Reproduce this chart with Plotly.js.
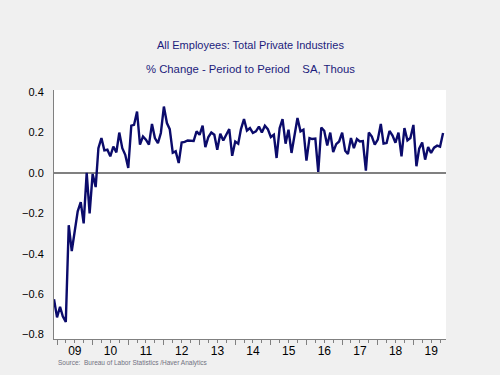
<!DOCTYPE html>
<html>
<head>
<meta charset="utf-8">
<script src="https://cdn.plot.ly/plotly-3.0.1.min.js"></script>
<style>
html,body{margin:0;padding:0;background:#f0f0f0;}
#chart{width:500px;height:375px;}
</style>
</head>
<body>
<div id="chart"></div>
<script>
// Monthly % change, Dec 2008 .. Nov 2019
const startYear = 2008, startMonth = 12;
const pctChange = [
 -0.626,-0.716,-0.663,-0.711,-0.738,-0.259,-0.387,-0.296,-0.190,-0.145,
 -0.250, 0.000,-0.200,-0.005,-0.070, 0.123, 0.173, 0.112, 0.115, 0.082,
  0.131, 0.102, 0.200, 0.123, 0.090, 0.025, 0.234, 0.238, 0.304, 0.140,
  0.181, 0.165, 0.140, 0.243, 0.173, 0.148, 0.198, 0.329, 0.247, 0.217,
  0.100, 0.107, 0.049, 0.151, 0.154, 0.161, 0.160, 0.158, 0.206, 0.189,
  0.234, 0.128, 0.178, 0.200, 0.189, 0.115, 0.194, 0.161, 0.189, 0.217,
  0.085, 0.156, 0.145, 0.217, 0.267, 0.210, 0.222, 0.198, 0.206, 0.230,
  0.200, 0.234, 0.217, 0.178, 0.189, 0.074, 0.222, 0.267, 0.145, 0.214,
  0.099, 0.189, 0.272, 0.206, 0.214, 0.061, 0.173, 0.168, 0.170, 0.005,
  0.225, 0.209, 0.136, 0.200, 0.104, 0.143, 0.156, 0.200, 0.110, 0.094,
  0.173, 0.123, 0.168, 0.156, 0.158, 0.011, 0.200, 0.180, 0.140, 0.165,
  0.243, 0.145, 0.148, 0.208, 0.185, 0.150, 0.200, 0.082, 0.222, 0.161,
  0.173, 0.238, 0.033, 0.120, 0.151, 0.066, 0.128, 0.099, 0.125, 0.135,
  0.130, 0.198
];
const yTickVals = [-0.8,-0.6,-0.4,-0.2,0.0,0.2,0.4];
const titleLine1 = "All Employees: Total Private Industries";
const titleLine2 = "% Change - Period to Period&nbsp;&nbsp;&nbsp;&nbsp;SA, Thous";
const sourceText = "Source:&nbsp;&nbsp;Bureau of Labor Statistics /Haver Analytics";

const dates = pctChange.map((_, i) => {
  const m0 = (startMonth - 1) + i;
  const y = startYear + Math.floor(m0 / 12);
  const m = (m0 % 12) + 1;
  return y + "-" + String(m).padStart(2, "0") + "-01";
});

const navy = "#0b0b6b";
const trace = {
  x: dates, y: pctChange, type: "scatter", mode: "lines",
  line: {color: navy, width: 2.4}, hoverinfo: "skip"
};

const layout = {
  width: 500, height: 375,
  paper_bgcolor: "#f0f0f0", plot_bgcolor: "#ffffff",
  margin: {l: 54, r: 54, t: 90, b: 36},
  showlegend: false,
  font: {family: "Arial, 'Liberation Sans', sans-serif", color: "#000000"},
  xaxis: {
    type: "date",
    range: ["2008-12-01", "2019-12-01"],
    tick0: "2009-01-01", dtick: "M12",
    ticklabelmode: "period", tickformat: "%y",
    ticks: "outside", ticklen: 5, tickcolor: "#808080", tickwidth: 1,
    minor: {dtick: "M3", tick0: "2009-01-01", ticks: "outside", ticklen: 3, tickcolor: "#808080", tickwidth: 1, showgrid: false},
    showgrid: false, zeroline: false,
    showline: true, linecolor: "#808080", linewidth: 1,
    tickfont: {size: 12, color: "#000000"},
    ticklabelstandoff: -4,
    fixedrange: true
  },
  yaxis: {
    range: [-0.823, 0.411],
    tickvals: yTickVals, tickformat: ".1f",
    ticks: "", showgrid: false,
    zeroline: true, zerolinecolor: "#808080", zerolinewidth: 1.5,
    showline: true, linecolor: "#808080", linewidth: 1,
    tickfont: {size: 11, color: "#000000"},
    ticklabelstandoff: 7,
    fixedrange: true
  },
  annotations: [
    {text: titleLine1, xref: "paper", yref: "paper", x: 0.5, y: 1, yshift: 45, showarrow: false,
     xanchor: "center", yanchor: "middle", font: {size: 11, color: "#1c1c7c"}},
    {text: titleLine2, xref: "paper", yref: "paper", x: 0.5, y: 1, yshift: 21, showarrow: false,
     xanchor: "center", yanchor: "middle", font: {size: 11.3, color: "#1c1c7c"}},
    {text: sourceText, xref: "paper", yref: "paper", x: 0, y: 0, xshift: 2, yshift: -24, showarrow: false,
     xanchor: "left", yanchor: "middle", font: {size: 6.5, color: "#707080"}}
  ]
};

Plotly.newPlot("chart", [trace], layout, {staticPlot: true, displayModeBar: false});
</script>
</body>
</html>
